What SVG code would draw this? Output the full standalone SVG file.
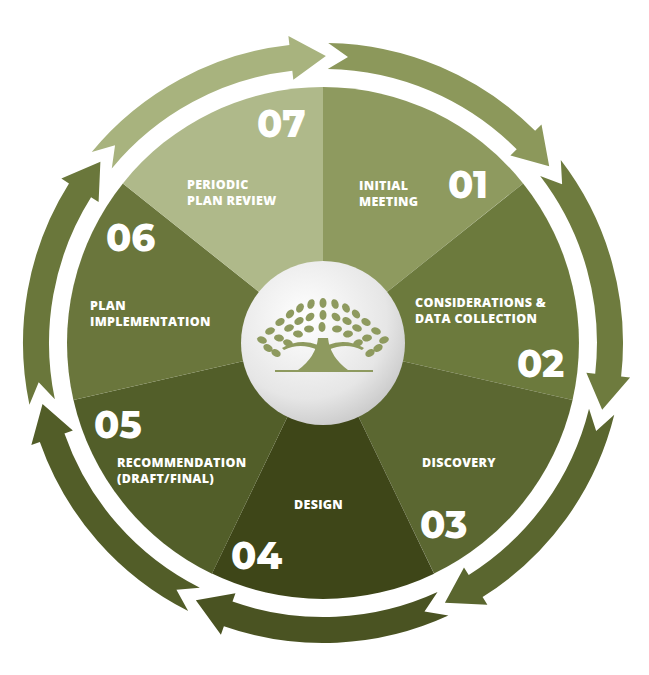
<svg xmlns="http://www.w3.org/2000/svg" width="649" height="675" viewBox="0 0 649 675">
<defs>
<style>
.num{font-family:"Montserrat","Open Sans","Liberation Sans",sans-serif;font-weight:800;font-size:37px;fill:#fff}
.lbl{font-family:"Open Sans","Liberation Sans",sans-serif;font-weight:800;font-size:12.5px;letter-spacing:0.3px;fill:#fff}
.leaf{fill:#8e9a5f}
</style>
<radialGradient id="cg" cx="0.4" cy="0.35" r="0.7"><stop offset="0" stop-color="#ffffff"/><stop offset="0.7" stop-color="#e6e6e6"/><stop offset="1" stop-color="#c8c8c8"/></radialGradient>
<path id="sec" d="M0,0 L0,-256 A256 256 0 0 1 200.1,-159.6 Z"/>
<path id="arr" d="M5.24,-299.95 A300 300 0 0 1 212.13,-212.13 L218.5,-218.5 L226.2,-176.7 L187.4,-187.4 L193.7,-193.7 A274 274 0 0 0 4.78,-273.96 L25,-285.9 Z"/>
<ellipse id="lf" rx="5" ry="3.5"/>
</defs>
<rect width="649" height="675" fill="#fff"/>
<g id="ring" transform="translate(323,343)">
<use href="#arr" fill="#8c985b"/>
<use href="#arr" fill="#6e7b3e" transform="rotate(51.43)"/>
<use href="#arr" fill="#5a662f" transform="rotate(102.86)"/>
<use href="#arr" fill="#4a5322" transform="rotate(154.29)"/>
<use href="#arr" fill="#525d28" transform="rotate(205.71)"/>
<use href="#arr" fill="#6a773b" transform="rotate(257.14)"/>
<use href="#arr" fill="#a8b37e" transform="rotate(308.57)"/>
</g>
<g id="sectors" transform="translate(323,343)">
<use id="s01" href="#sec" fill="#8e9a5f"/>
<use id="s02" href="#sec" fill="#6c7a3d" transform="rotate(51.43)"/>
<use id="s03" href="#sec" fill="#5b6731" transform="rotate(102.86)"/>
<use id="s04" href="#sec" fill="#3e4618" transform="rotate(154.29)"/>
<use id="s05" href="#sec" fill="#525e29" transform="rotate(205.71)"/>
<use id="s06" href="#sec" fill="#6a763c" transform="rotate(257.14)"/>
<use id="s07" href="#sec" fill="#afb98a" transform="rotate(308.57)"/>
</g>
<g id="n07"><text class="num" x="257" y="137">07</text><text class="lbl" x="187" y="189">PERIODIC</text><text class="lbl" x="187" y="205">PLAN REVIEW</text></g>
<g id="n01"><text class="num" x="448" y="198">01</text><text class="lbl" x="359" y="190">INITIAL</text><text class="lbl" x="359" y="206">MEETING</text></g>
<g id="n02"><text class="num" x="517" y="377">02</text><text class="lbl" x="415" y="307">CONSIDERATIONS &amp;</text><text class="lbl" x="415" y="323">DATA COLLECTION</text></g>
<g id="n03"><text class="num" x="420" y="538">03</text><text class="lbl" x="422" y="467">DISCOVERY</text></g>
<g id="n04"><text class="num" x="231" y="569">04</text><text class="lbl" x="294" y="509">DESIGN</text></g>
<g id="n05"><text class="num" x="94" y="438">05</text><text class="lbl" x="117" y="467">RECOMMENDATION</text><text class="lbl" x="117" y="483">(DRAFT/FINAL)</text></g>
<g id="n06"><text class="num" x="106" y="251">06</text><text class="lbl" x="90" y="310">PLAN</text><text class="lbl" x="90" y="326">IMPLEMENTATION</text></g>
<g id="center">
<circle cx="323" cy="343" r="82" fill="url(#cg)"/>
<g class="leaf">
<use href="#lf" transform="translate(262,340) rotate(20)"/><use href="#lf" transform="translate(270,331) rotate(-20)"/><use href="#lf" transform="translate(268,348) rotate(30)"/>
<use href="#lf" transform="translate(280,322) rotate(-30)"/><use href="#lf" transform="translate(279,338) rotate(10)"/><use href="#lf" transform="translate(276,353) rotate(30)"/>
<use href="#lf" transform="translate(290,314) rotate(-50)"/><use href="#lf" transform="translate(289,328) rotate(-20)"/><use href="#lf" transform="translate(288,343) rotate(20)"/>
<use href="#lf" transform="translate(300,308) rotate(-60)"/><use href="#lf" transform="translate(299,321) rotate(-30)"/><use href="#lf" transform="translate(298,334) rotate(10)"/>
<use href="#lf" transform="translate(311,304) rotate(-70)"/><use href="#lf" transform="translate(310,317) rotate(-40)"/><use href="#lf" transform="translate(309,329) rotate(0)"/>
<use href="#lf" transform="translate(323,303) rotate(90)"/><use href="#lf" transform="translate(323,315) rotate(90)"/><use href="#lf" transform="translate(322,327) rotate(90)"/>
<use href="#lf" transform="translate(335,304) rotate(70)"/><use href="#lf" transform="translate(336,317) rotate(40)"/><use href="#lf" transform="translate(337,329) rotate(0)"/>
<use href="#lf" transform="translate(346,308) rotate(60)"/><use href="#lf" transform="translate(347,321) rotate(30)"/><use href="#lf" transform="translate(348,334) rotate(-10)"/>
<use href="#lf" transform="translate(356,314) rotate(50)"/><use href="#lf" transform="translate(357,328) rotate(20)"/><use href="#lf" transform="translate(358,343) rotate(-20)"/>
<use href="#lf" transform="translate(366,322) rotate(30)"/><use href="#lf" transform="translate(367,338) rotate(-10)"/><use href="#lf" transform="translate(370,353) rotate(-30)"/>
<use href="#lf" transform="translate(376,331) rotate(20)"/><use href="#lf" transform="translate(384,340) rotate(-20)"/><use href="#lf" transform="translate(378,348) rotate(-30)"/>
<path d="M318,338 Q316,357 298,370 L348,370 Q330,357 328,338 Z"/>
<path d="M318,345 Q300,338 282,348 L284,350 Q300,342 318,350 Z"/>
<path d="M328,345 Q346,338 364,348 L362,350 Q346,342 328,350 Z"/>
<path d="M275,370 L373,370 L373,372 L275,372 Z"/>
</g>
</g>
</svg>
